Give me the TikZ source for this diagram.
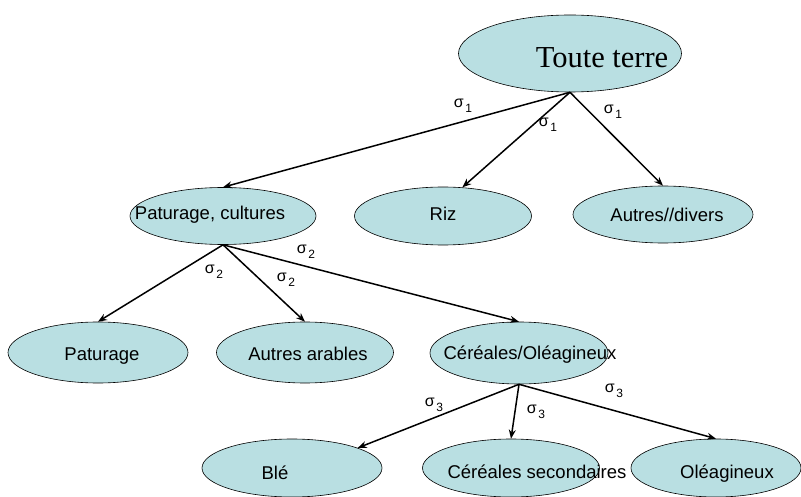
\documentclass[tikz,border=0pt]{standalone}
\usepackage{fontspec}
\setmainfont{Liberation Sans}
\newfontfamily\serifnode{Liberation Serif}
\usetikzlibrary{shapes.geometric,arrows.meta}
\definecolor{bubblefill}{RGB}{185,223,226}
\newcommand{\sg}[1]{σ\hspace{1.5pt}\raisebox{-5pt}{\fontsize{12}{12}\selectfont #1}}
\begin{document}
\begin{tikzpicture}
  [x=1pt,y=-1pt,
   bubble/.style={ellipse,draw,line width=0.6pt,fill=bubblefill,inner sep=0pt},
   txt/.style={anchor=base,inner sep=0pt,font=\fontsize{18.5}{20}\selectfont},
   sig/.style={inner sep=0pt,font=\fontsize{16}{16}\selectfont},
   arr/.style={-{Stealth[length=9pt,width=7pt]},line width=1.5pt}]
  \fill[white] (0,0) rectangle (801,497);
  \useasboundingbox (0,0) rectangle (801,497);

  % ellipses
  \node[bubble,minimum width=223pt,minimum height=77pt] (tout) at (570,53.5) {};
  \node[bubble,minimum width=186pt,minimum height=57pt] (pc) at (223,216) {};
  \node[bubble,minimum width=177pt,minimum height=58pt] (riz) at (443,216) {};
  \node[bubble,minimum width=180pt,minimum height=57pt] (ad) at (663,214.5) {};
  \node[bubble,minimum width=180pt,minimum height=61pt] (pat) at (98,352.5) {};
  \node[bubble,minimum width=177pt,minimum height=61pt] (aa) at (305,352.5) {};
  \node[bubble,minimum width=178pt,minimum height=62pt] (co) at (519,353) {};
  \node[bubble,minimum width=180pt,minimum height=58pt] (ble) at (292,468) {};
  \node[bubble,minimum width=177pt,minimum height=58pt] (cs) at (511,468) {};
  \node[bubble,minimum width=170pt,minimum height=58pt] (ol) at (716,468) {};

  % texts
  \node[txt,font=\serifnode\fontsize{30.5}{31}\selectfont] (tout-t) at (602,68) {Toute terre};
  \node[txt] (pc-t) at (210,220) {Paturage, cultures};
  \node[txt] (riz-t) at (443,221) {Riz};
  \node[txt] (ad-t) at (667,222) {Autres//divers};
  \node[txt] (pat-t) at (102,360) {Paturage};
  \node[txt] (aa-t) at (308,360) {Autres arables};
  \node[txt] (co-t) at (530,359) {Céréales/Oléagineux};
  \node[txt] (ble-t) at (275,479) {Blé};
  \node[txt] (cs-t) at (537,478) {Céréales secondaires};
  \node[txt] (ol-t) at (727,478) {Oléagineux};

  % connectors
  \draw[arr] (tout.south) -- (pc.north);
  \draw[arr] (tout.south) -- (riz.56);
  \draw[arr] (tout.south) -- (ad.north);
  \foreach \to in {pat,aa,co}
    \draw[arr] (pc.south) -- (\to.north);
  \draw[arr] (co.south) -- (ble.17);
  \foreach \to in {cs,ol}
    \draw[arr] (co.south) -- (\to.north);

  % labels
  \node[sig] (s1a) at (463,106) {\sg{1}};
  \node[sig] (s1b) at (548,125) {\sg{1}};
  \node[sig] (s1c) at (613,112) {\sg{1}};
  \node[sig] (s2a) at (214,272) {\sg{2}};
  \node[sig] (s2b) at (286,280) {\sg{2}};
  \node[sig] (s2c) at (306,252) {\sg{2}};
  \node[sig] (s3a) at (434,405) {\sg{3}};
  \node[sig] (s3b) at (536,412) {\sg{3}};
  \node[sig] (s3c) at (614,391) {\sg{3}};
\end{tikzpicture}
\end{document}
